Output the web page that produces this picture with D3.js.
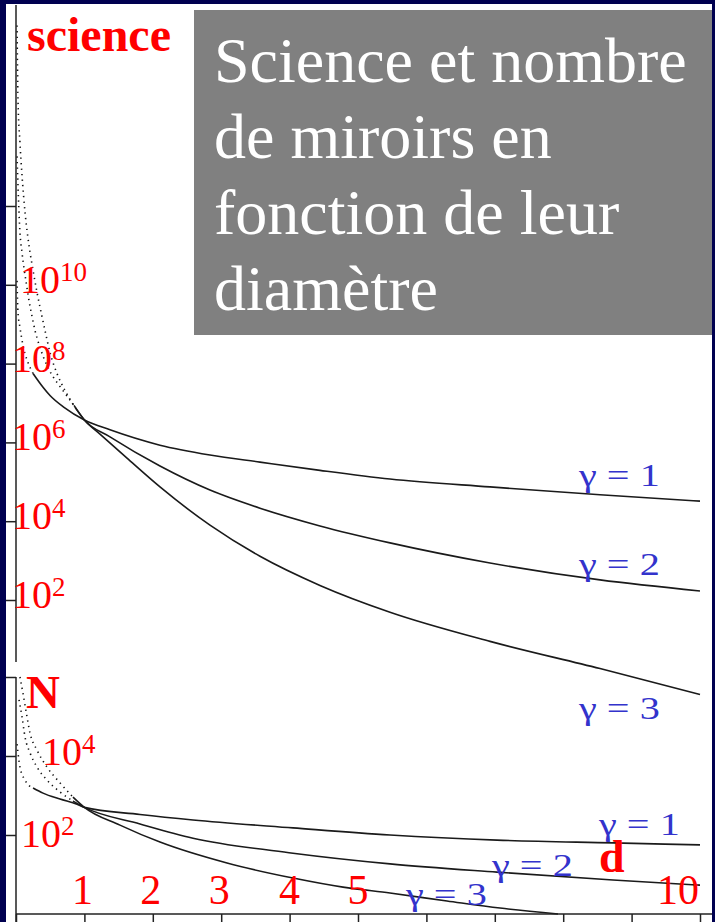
<!DOCTYPE html>
<html>
<head>
<meta charset="utf-8">
<script src="https://cdn.jsdelivr.net/npm/d3@7"></script>
<style>
  html, body { margin: 0; padding: 0; background: #000050; }
  svg { display: block; }
</style>
</head>
<body>
<svg id="chart" width="715" height="922"></svg>
<script>
// Each series: [diameter d, log10 of the quantity]
const scienceGamma1 = [[0.015, 10.1], [0.029, 9.30], [0.058, 8.92], [0.102, 8.46], [0.175, 8.03], [0.249, 7.75],
  [0.395, 7.40], [0.497, 7.19], [0.702, 6.89], [1.0, 6.57], [1.374, 6.32], [2.105, 5.93], [2.836, 5.68],
  [3.567, 5.50], [4.444, 5.29], [5.468, 5.07], [6.93, 4.87], [8.538, 4.67], [10, 4.51]];
const scienceGamma2 = [[0.015, 13.26], [0.058, 11.33], [0.088, 10.82], [0.117, 10.42], [0.146, 10.09],
  [0.190, 9.60], [0.234, 9.20], [0.278, 8.84], [0.336, 8.49], [0.409, 8.13], [0.497, 7.80], [0.673, 7.35],
  [0.848, 6.94], [1.0, 6.57], [1.374, 6.14], [2.105, 5.40], [2.836, 4.79], [3.567, 4.33], [4.444, 3.88],
  [5.468, 3.45], [6.93, 2.94], [8.538, 2.51], [10, 2.23]];
const scienceGamma3 = [[0.015, 16.58], [0.029, 14.71], [0.058, 13.61], [0.088, 12.78], [0.132, 11.84],
  [0.190, 11.00], [0.249, 10.37], [0.307, 9.81], [0.365, 9.32], [0.424, 8.84], [0.497, 8.28], [0.599, 7.75],
  [0.716, 7.32], [0.863, 6.89], [1.0, 6.57], [1.228, 6.21], [1.623, 5.60], [2.105, 4.87], [2.836, 3.90],
  [3.567, 3.11], [4.444, 2.37], [5.468, 1.69], [6.93, 0.95], [8.538, 0.26], [10, -0.40]];

const nGamma1 = [[0.015, 4.30], [0.029, 4.08], [0.058, 3.72], [0.132, 3.39], [0.249, 3.19], [0.395, 3.06],
  [0.643, 2.91], [0.892, 2.78], [1.0, 2.70], [1.813, 2.52], [2.588, 2.38], [4.05, 2.18], [5.468, 2.00],
  [7.032, 1.87], [8.728, 1.80], [10, 1.75]];
const nGamma2 = [[0.044, 5.42], [0.088, 4.99], [0.132, 4.48], [0.205, 4.08], [0.307, 3.72], [0.453, 3.39],
  [0.643, 3.09], [0.833, 2.86], [1.0, 2.70], [1.813, 2.28], [2.588, 1.92], [4.05, 1.54], [5.468, 1.27],
  [7.032, 1.06], [8.728, 0.86], [10, 0.73]];
const nGamma3 = [[0.058, 6.10], [0.102, 5.59], [0.161, 4.99], [0.205, 4.58], [0.307, 4.15], [0.453, 3.72],
  [0.643, 3.32], [0.833, 2.96], [1.0, 2.70], [1.52, 2.25], [2.105, 1.82], [3.085, 1.29], [4.05, 0.91],
  [4.781, 0.68], [5.468, 0.53], [6.301, 0.33], [7.076, 0.15], [7.924, 0.0]];

// diameter below which each curve is drawn dotted
const scienceDotEnd = [0.249, 0.848, 0.863];
const nDotEnd = [0.249, 0.833, 0.833];

const gammaLabels = ["γ = 1", "γ = 2", "γ = 3"];
const scienceTickExponents = [2, 4, 6, 8, 10, 12];
const nTickExponents = [2, 4, 6];
const nLabelExponents = [2, 4];
const xTickValues = [0, 1, 2, 3, 4, 5, 6, 7, 8, 9, 10];
const xTickLabels = [1, 2, 3, 4, 5, 10];
const titleLines = ["Science et nombre", "de miroirs en", "fonction de leur", "diamètre"];

const RED = "#ff0000", BLUE = "#3333cc", INK = "#1a1a1a";
const SERIF = "'Liberation Serif', 'Times New Roman', serif";

const svg = d3.select("#chart");

// white slide area inside the navy frame
svg.append("rect").attr("x", 6).attr("y", 4).attr("width", 706).attr("height", 918).attr("fill", "#fff");

const x = d3.scaleLinear().domain([0, 10]).range([16, 700]);
const ySci = d3.scaleLog().domain([1e2, 1e12]).range([600, 206]);
const yN = d3.scaleLog().domain([1, 1e6]).range([914, 677]).clamp(true);

const defs = svg.append("defs");
defs.append("clipPath").attr("id", "clipSci").append("rect")
  .attr("x", 16).attr("y", 5).attr("width", 700).attr("height", 700);
defs.append("clipPath").attr("id", "clipN").append("rect")
  .attr("x", 16).attr("y", 668).attr("width", 700).attr("height", 250);

function drawCurves(series, dotEnds, yScale, clipId) {
  const g = svg.append("g").attr("clip-path", `url(#${clipId})`);
  const line = d3.line()
    .x(p => x(p[0]))
    .y(p => yScale(Math.pow(10, p[1])))
    .curve(d3.curveMonotoneX);
  series.forEach((s, i) => {
    const t = dotEnds[i];
    const dotted = s.filter(p => p[0] <= t);
    const solid = s.filter(p => p[0] >= t);
    g.append("path").attr("d", line(dotted)).attr("fill", "none")
      .attr("stroke", "#111").attr("stroke-width", 1.6).attr("stroke-dasharray", "1.3,4.2");
    g.append("path").attr("d", line(solid)).attr("fill", "none")
      .attr("stroke", INK).attr("stroke-width", 1.6);
  });
}
drawCurves([scienceGamma1, scienceGamma2, scienceGamma3], scienceDotEnd, ySci, "clipSci");
drawCurves([nGamma1, nGamma2, nGamma3], nDotEnd, yN, "clipN");

// vertical axes
const axisSci = svg.append("g").attr("transform", "translate(16,0)")
  .call(d3.axisLeft(ySci).tickValues(scienceTickExponents.map(e => Math.pow(10, e))).tickSize(10).tickFormat(""));
axisSci.select(".domain").remove();
const axisN = svg.append("g").attr("transform", "translate(16,0)")
  .call(d3.axisLeft(yN).tickValues(nTickExponents.map(e => Math.pow(10, e))).tickSize(10).tickFormat(""));
axisN.select(".domain").remove();
svg.selectAll(".tick line").attr("stroke", "#222").attr("stroke-width", 1.5);
svg.append("line").attr("x1", 16).attr("x2", 16).attr("y1", 5).attr("y2", 662)
  .attr("stroke", "#222").attr("stroke-width", 1.5);
svg.append("line").attr("x1", 16).attr("x2", 16).attr("y1", 677).attr("y2", 922)
  .attr("stroke", "#222").attr("stroke-width", 1.5);

// horizontal axis
const axisX = svg.append("g").attr("transform", `translate(0,${yN(1)})`)
  .call(d3.axisBottom(x).tickValues(xTickValues).tickSize(8).tickFormat("").tickSizeOuter(0));
axisX.select(".domain").attr("d", `M16,0H712`).attr("stroke", "#222").attr("stroke-width", 1.5);
axisX.selectAll(".tick line").attr("stroke", "#222").attr("stroke-width", 1.5);

// power-of-ten labels
function powerLabel(px, baseY, exp) {
  const t = svg.append("text").attr("x", px).attr("y", baseY)
    .attr("font-family", SERIF).attr("fill", RED).attr("font-size", 40);
  t.append("tspan").text("10");
  t.append("tspan").attr("font-size", 27).attr("dy", -12).text(exp);
}
scienceTickExponents.forEach(e => {
  if (e > 10) return;
  powerLabel(e === 10 ? 20 : 12, ySci(Math.pow(10, e)) + 8, e);
});
nLabelExponents.forEach(e => {
  powerLabel(e === 4 ? 42 : 21, yN(Math.pow(10, e)) + (e === 4 ? 9 : 12), e);
});

// x tick labels
xTickLabels.forEach(v => {
  svg.append("text")
    .attr("x", v === 10 ? x(v) - 1 : x(v) + (v < 4 ? -2 : 0))
    .attr("y", 904)
    .attr("text-anchor", v === 10 ? "end" : "middle")
    .attr("font-family", SERIF).attr("font-size", 42).attr("fill", RED)
    .text(v);
});

// axis titles
svg.append("text").attr("x", 27).attr("y", 51).attr("font-family", SERIF).attr("font-weight", "bold")
  .attr("font-size", 48).attr("fill", RED).text("science");
svg.append("text").attr("x", 26).attr("y", 708).attr("font-family", SERIF).attr("font-weight", "bold")
  .attr("font-size", 47).attr("fill", RED).text("N");
svg.append("text").attr("x", 599).attr("y", 872).attr("font-family", SERIF).attr("font-weight", "bold")
  .attr("font-size", 46).attr("fill", RED).text("d");

// curve labels (typeset wide)
const sciLabelPos = [[579, 486], [579, 575], [579, 719]];
const nLabelPos = [[599, 835], [492, 876], [406, 905]];
[sciLabelPos, nLabelPos].forEach(pos => {
  pos.forEach((p, i) => {
    svg.append("text").attr("transform", `translate(${p[0]},${p[1]}) scale(1.3,1)`)
      .attr("font-family", SERIF).attr("font-size", 31).attr("fill", BLUE)
      .text(gammaLabels[i]);
  });
});

// title box
svg.append("rect").attr("x", 194).attr("y", 10).attr("width", 518).attr("height", 325).attr("fill", "#808080");
titleLines.forEach((s, i) => {
  svg.append("text").attr("x", 214).attr("y", 82 + i * 76)
    .attr("font-family", SERIF).attr("font-size", 64).attr("fill", "#fff").text(s);
});
</script>
</body>
</html>
